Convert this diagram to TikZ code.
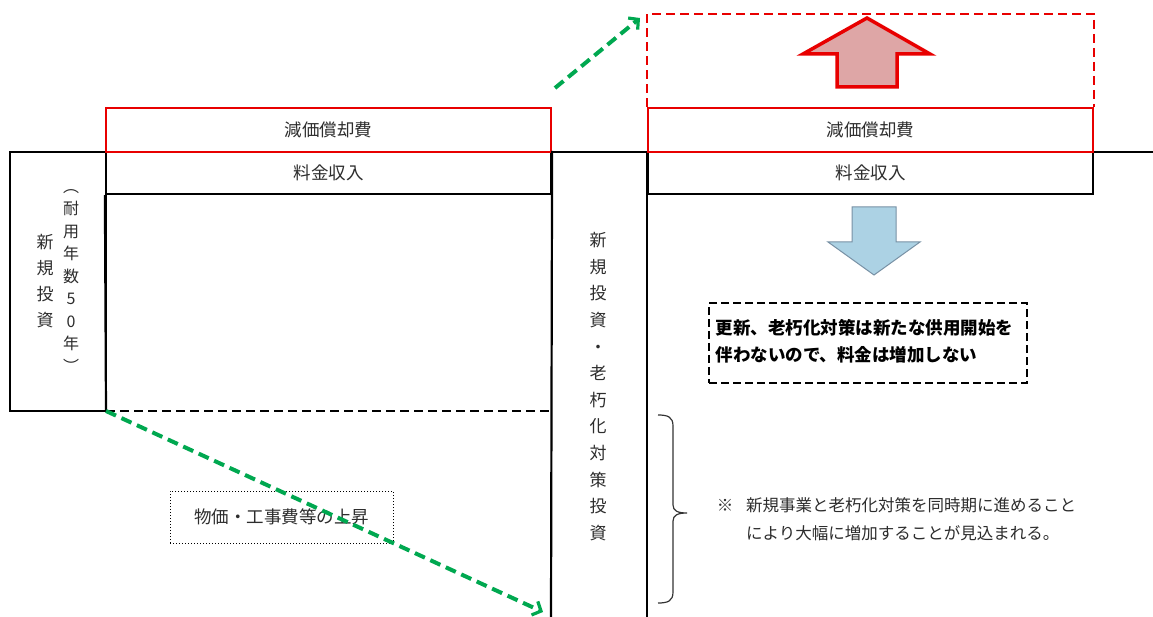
\documentclass[tikz,border=0pt]{standalone}
\usepackage{fontspec}
\newfontfamily\cjk{Noto Sans CJK JP}
\usetikzlibrary{arrows.meta}
\definecolor{myred}{RGB}{232,0,0}
\definecolor{mygreen}{RGB}{0,168,80}
\definecolor{pinkfill}{RGB}{222,166,166}
\definecolor{bluefill}{RGB}{172,210,228}
\definecolor{blueline}{RGB}{120,145,165}
\definecolor{txt}{RGB}{45,45,45}
\tikzset{
  blk/.style={draw=black, line width=2.2pt},
  lbl/.style={font=\cjk\fontsize{17.5}{20}\selectfont, text=txt, inner sep=0pt},
  redbox/.style={lbl, draw=myred, line width=2pt, minimum width=445pt, minimum height=44pt},
  feebox/.style={lbl, draw=black, line width=2.2pt, minimum width=445pt, minimum height=42pt},
  vert/.style={font=\cjk\fontsize{17}{26.6}\selectfont, text=txt, align=center, inner sep=0pt},
  greenarrow/.style={draw=mygreen, line width=4pt, dash pattern=on 11pt off 6pt, -{Straight Barb[length=7pt,width=15pt,line width=3.2pt]}},
}
\begin{document}
\begin{tikzpicture}[x=1pt,y=-1pt]
\useasboundingbox (0,0) rectangle (1153,617);
\fill[white] (0,0) rectangle (1153,617);
% long horizontal line
\coordinate (hl) at (10,152);
\coordinate (hr) at (1153,152);
\draw[blk] (hl) -- (hr);
% left tall box
\node[blk, minimum width=96pt, minimum height=259pt, inner sep=0pt] (newbox) at (58,281.5) {};
\node[vert, font=\cjk\fontsize{17}{26}\selectfont] (newtxt) at (45,281) {新\\規\\投\\資};
\node[vert, font=\cjk\fontsize{16}{22.5}\selectfont] (lifetxt) at (71,281) {︵\\耐\\用\\年\\数\\5\\0\\年\\︶};
% left column
\node[feebox] (fee1) at (328.5,173) {料金収入};
\node[redbox] (dep1) at (328.5,130) {減価償却費};
\coordinate (bl) at (106,411);
\coordinate (br) at (551,411);
\coordinate (rbot) at (551,617);
\draw[blk] (fee1.south west) -- (bl);
\draw[blk] (fee1.north east) -- (rbot);
\draw[blk, dash pattern=on 9pt off 5pt] (bl) -- (br);
% middle vertical text
\node[vert] (midtxt) at (598,386.5) {新\\規\\投\\資\\・\\老\\朽\\化\\対\\策\\投\\資};
\coordinate (mtop) at (647,152);
\coordinate (mbot) at (647,617);
\draw[blk] (mtop) -- (mbot);
% right column
\node[feebox] (fee2) at (870.5,173) {料金収入};
\node[redbox] (dep2) at (870.5,130) {減価償却費};
\coordinate (rd1) at (647,14);
\coordinate (rd2) at (1094,14);
\draw[draw=myred, line width=2pt, dash pattern=on 9pt off 5pt] (dep2.north west) -- (rd1) -- (rd2) -- (dep2.north east);
% red up arrow
\draw[draw=myred, fill=pinkfill, line width=3.5pt, line join=miter]
  (867,18) -- (930,54) -- (897,54) -- (897,87) -- (837,87) -- (837,54) -- (803,54) -- cycle;
% blue down arrow
\draw[draw=blueline, fill=bluefill, line width=1pt]
  (852,207) -- (896,207) -- (896,242) -- (920,242) -- (874,275) -- (828,242) -- (852,242) -- cycle;
% bold dashed box
\node[draw=black, line width=2.6pt, dash pattern=on 8pt off 4pt, minimum width=318pt, minimum height=80pt, inner sep=0pt] (nobox) at (868,343) {};
\node[font=\cjk\fontsize{17.5}{27}\bfseries, text=black, align=left, text width=305pt, inner sep=0pt] (notxt) at (868,341.5)
  {更新、老朽化対策は新たな供用開始を\\伴わないので、料金は増加しない};
% brace
\coordinate (brt) at (658,415);
\coordinate (brm) at (687,513);
\coordinate (brb) at (658,603);
\draw[line width=1.2pt, draw=black!80] (brt) .. controls (668,415) and (673,417) .. (673,426) -- (673,505)
  .. controls (673,511) and (678,513) .. (brm) .. controls (678,513) and (673,515) .. (673,521)
  -- (673,592) .. controls (673,601) and (668,603) .. (brb);
% note
\node[lbl, font=\cjk\fontsize{16.5}{20}\selectfont] (kome) at (725,505) {※};
\node[lbl, font=\cjk\fontsize{16.5}{20}\selectfont, anchor=west] (note1) at (746,505) {新規事業と老朽化対策を同時期に進めること};
\node[lbl, font=\cjk\fontsize{16.5}{20}\selectfont, anchor=west] (note2) at (746,533) {により大幅に増加することが見込まれる。};
% dotted box
\node[lbl, draw=black, line width=1pt, dotted, minimum width=223pt, minimum height=52pt] (price) at (281.5,517) {物価・工事費等の上昇};
% green arrows
\coordinate (g1s) at (555,88);
\coordinate (g1e) at (640,18);
\coordinate (g2e) at (543,612);
\draw[greenarrow] (g1s) -- (g1e);
\draw[greenarrow] (bl) -- (g2e);
\end{tikzpicture}
\end{document}
